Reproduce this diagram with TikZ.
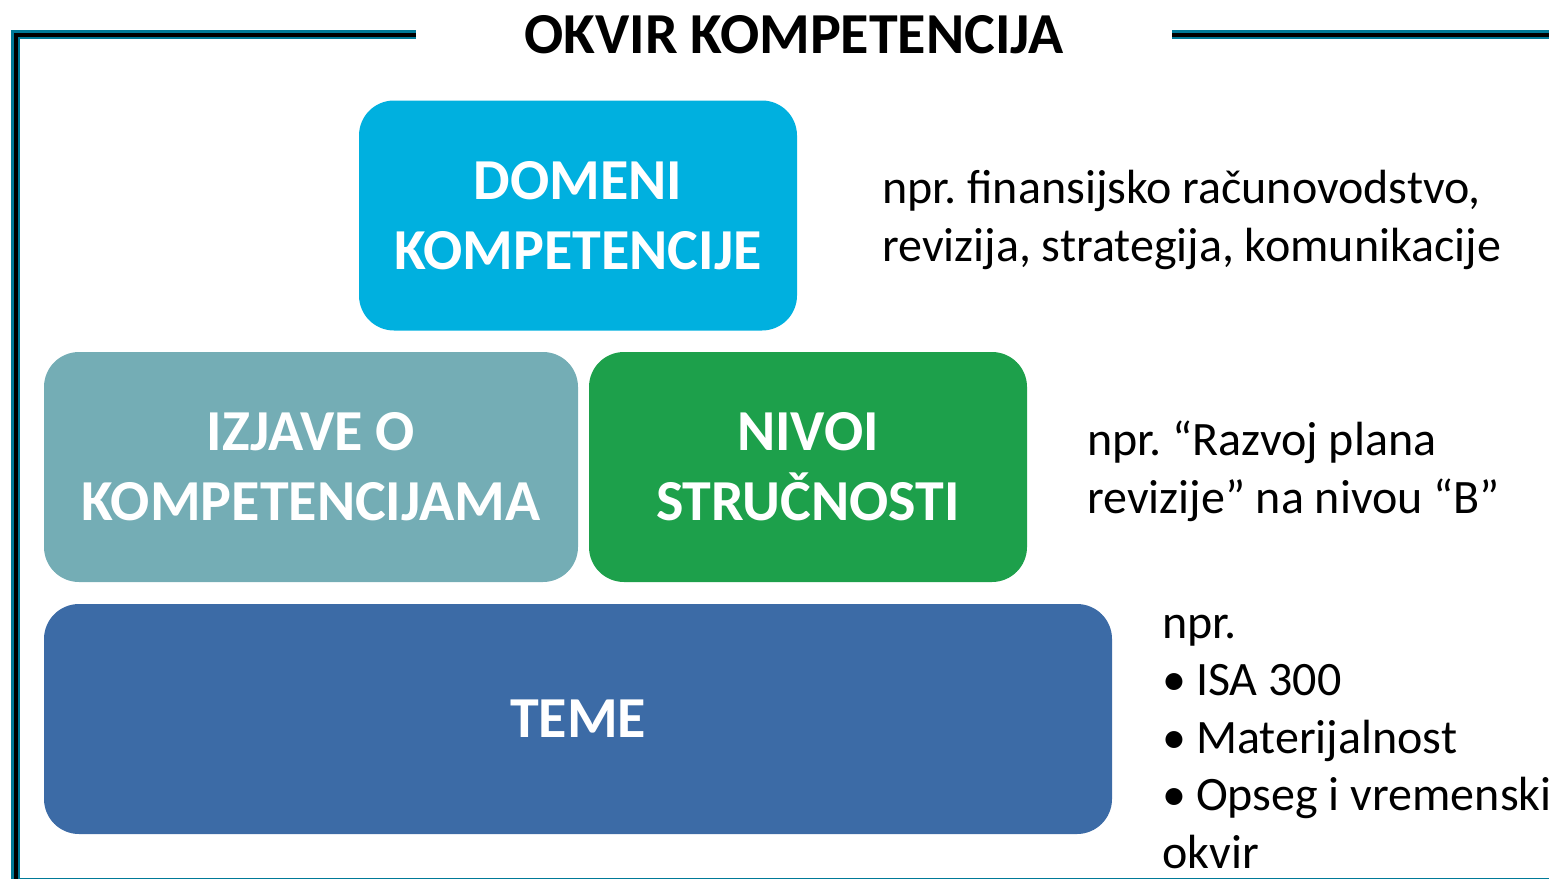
\documentclass[tikz,border=0pt]{standalone}
\usepackage{fontspec}
\setmainfont{Carlito}
\usetikzlibrary{positioning}
\frenchspacing

\definecolor{frameteal}{RGB}{0,122,152}
\definecolor{domcyan}{RGB}{0,176,223}
\definecolor{izjteal}{RGB}{116,173,181}
\definecolor{nivgreen}{RGB}{29,160,75}
\definecolor{temblue}{RGB}{60,107,166}

\begin{document}
\begin{tikzpicture}[
    x=1pt, y=-1pt,
    tier/.style={rectangle, rounded corners=35pt, minimum height=230pt, inner sep=0pt, align=center, text=white, font=\fontsize{58}{70}\selectfont\bfseries},
    note/.style={anchor=base west, inner sep=0pt, align=left, font=\fontsize{48}{57.5}\selectfont},
    framepath/.style={line width=9pt, draw=frameteal},
    frameinner/.style={line width=4pt, draw=black}
]
\useasboundingbox (0,0) rectangle (1549,878);
\clip (0,0) rectangle (1549,878);

%% ---- Frame ----
\coordinate (fl) at (416,34.5);
\coordinate (fc) at (15.5,34.5);
\coordinate (fb) at (15.5,882);
\coordinate (fbr) at (1600,882);
\coordinate (fr) at (1172,34.5);
\coordinate (frr) at (1600,34.5);
\foreach \sty in {framepath, frameinner} {
  \draw[\sty] (fl) -- (fc) -- (fb) -- (fbr);
  \draw[\sty] (fr) -- (frr);
}

%% ---- Title ----
\node[font=\fontsize{58}{70}\selectfont\bfseries] (title) at (794,35) {OKVIR KOMPETENCIJA};

%% ---- Tiers ----
\node[tier, fill=domcyan, minimum width=438pt] (domeni) at (578,215.5) {DOMENI\\KOMPETENCIJE};
\node[tier, fill=izjteal, minimum width=534pt] (izjave) at (311,467) {IZJAVE O\\KOMPETENCIJAMA};
\node[tier, fill=nivgreen, minimum width=438pt] (nivoi) at (808,467) {NIVOI\\STRUČNOSTI};
\node[tier, fill=temblue, minimum width=1068pt] (teme) at (578,719) {TEME};

%% ---- Examples (anchored at the last baseline) ----
\node[note] (exdomeni) at (882,261) {npr. finansijsko računovodstvo,\\revizija, strategija, komunikacije};
\node[note] (exnivoi) at (1087,513) {npr. “Razvoj plana\\revizije” na nivou “B”};
\node[note] (exteme) at (1162,868) {npr.\\•\hspace{10pt}ISA 300\\•\hspace{10pt}Materijalnost\\•\hspace{10pt}Opseg i vremenski\\okvir};

\end{tikzpicture}
\end{document}
